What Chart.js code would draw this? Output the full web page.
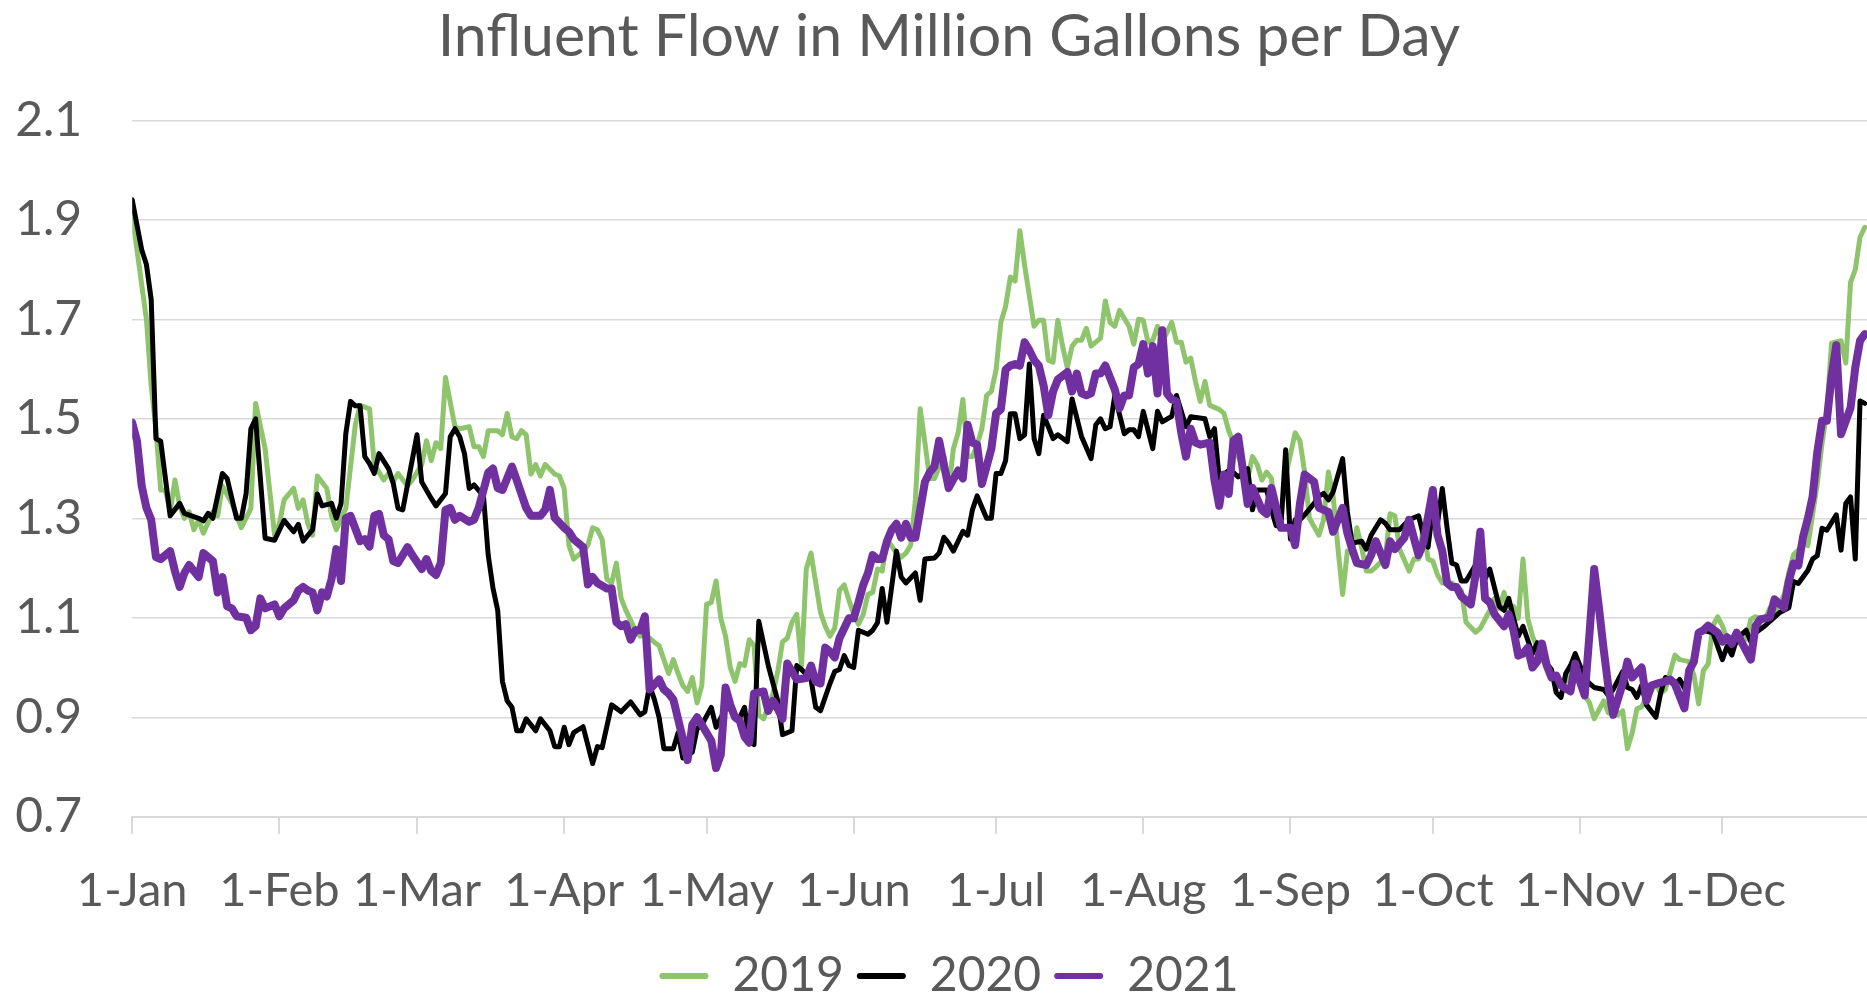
<!DOCTYPE html>
<html><head><meta charset="utf-8">
<script src="https://cdn.jsdelivr.net/npm/chart.js@4.4.1/dist/chart.umd.min.js"></script>
<style>html,body{margin:0;padding:0;background:#fff;overflow:hidden}#wrap{position:relative;width:1898px;height:994px}</style>
</head><body><div id="wrap"><canvas id="c"></canvas></div>
<script>
const titleText = 'Influent Flow in Million Gallons per Day';
const seriesNames = ['2019', '2020', '2021'];
const seriesColors = ['#8DC46C', '#000000', '#7030A0'];
const monthStarts = [0, 31, 60, 91, 121, 152, 182, 213, 244, 274, 305, 335];
const monthLabels = ['1-Jan','1-Feb','1-Mar','1-Apr','1-May','1-Jun','1-Jul','1-Aug','1-Sep','1-Oct','1-Nov','1-Dec'];
const yTicks = [0.7, 0.9, 1.1, 1.3, 1.5, 1.7, 1.9, 2.1];

// 2019 (day of year, MGD)
const days2019 = [
0,3,4,5,6,7,8,9,10,11,
12,13,14,15,17,18,19,21,23,25,
26,28,30,31,32,34,35,36,37,38,
39,41,42,43,45,47,48,50,51,53,
54,55,56,58,59,61,62,63,64,65,
66,68,69,71,72,73,74,75,77,78,
79,80,81,82,83,84,85,86,87,89,
90,91,92,93,95,96,97,98,99,100,
101,102,103,104,106,107,108,110,111,113,
114,115,116,117,118,119,120,121,122,123,
124,125,126,127,128,129,130,131,132,133,
135,136,137,138,139,140,141,142,143,144,
145,146,147,148,149,150,151,152,153,154,
155,156,157,158,159,161,162,163,164,165,
166,167,168,169,171,172,173,174,175,176,
177,178,179,180,181,182,183,184,185,186,
187,188,190,191,192,193,194,195,196,197,
198,199,200,201,202,204,205,206,207,208,
210,211,212,213,214,215,216,217,219,220,
221,222,223,224,225,226,227,229,230,231,
232,233,235,236,237,238,239,240,241,242,
243,245,246,247,248,250,251,252,253,254,
255,256,257,258,259,260,261,262,264,265,
266,267,269,270,271,272,273,274,275,276,
278,280,281,283,284,286,287,288,289,290,
291,292,293,294,295,296,297,299,300,302,
303,304,305,306,307,308,310,311,312,313,
314,315,316,317,318,319,320,321,322,323,
325,326,328,329,330,331,332,333,334,335,
336,338,339,340,341,342,344,345,346,348,
349,350,351,352,353,354,355,356,357,358,
360,361,362,363,364,365];
const flow2019 = [
1.91,1.70,1.567,1.48,1.357,1.357,1.313,1.377,1.325,1.30,
1.313,1.277,1.297,1.27,1.313,1.305,1.365,1.33,1.281,1.32,
1.531,1.44,1.266,1.289,1.337,1.36,1.32,1.337,1.289,1.266,
1.385,1.36,1.305,1.277,1.32,1.488,1.527,1.52,1.408,1.377,
1.39,1.373,1.39,1.365,1.377,1.408,1.456,1.416,1.452,1.44,
1.583,1.484,1.48,1.484,1.444,1.444,1.424,1.476,1.476,1.468,
1.511,1.464,1.46,1.476,1.468,1.389,1.408,1.385,1.408,1.389,
1.385,1.36,1.246,1.218,1.234,1.246,1.281,1.277,1.257,1.178,
1.17,1.21,1.139,1.115,1.075,1.063,1.067,1.051,1.044,0.988,
1.016,0.988,0.964,0.952,0.98,0.929,0.964,1.127,1.131,1.174,
1.099,1.063,1.0,0.972,1.008,1.004,1.056,1.044,0.905,0.897,
0.948,0.992,1.052,1.059,1.091,1.107,1.004,1.198,1.23,1.17,
1.111,1.083,1.063,1.079,1.155,1.166,1.135,1.107,1.087,1.107,
1.147,1.151,1.198,1.194,1.258,1.23,1.222,1.23,1.246,1.337,
1.52,1.452,1.38,1.38,1.424,1.357,1.44,1.472,1.539,1.424,
1.424,1.448,1.48,1.547,1.555,1.599,1.694,1.726,1.785,1.777,
1.878,1.809,1.686,1.698,1.698,1.618,1.614,1.698,1.646,1.603,
1.646,1.658,1.658,1.682,1.646,1.662,1.737,1.694,1.686,1.718,
1.686,1.65,1.70,1.698,1.654,1.658,1.686,1.654,1.694,1.654,
1.654,1.614,1.622,1.575,1.535,1.575,1.527,1.519,1.511,1.476,
1.452,1.424,1.38,1.424,1.408,1.377,1.393,1.38,1.297,1.30,
1.385,1.472,1.456,1.393,1.30,1.266,1.297,1.393,1.345,1.242,
1.147,1.234,1.23,1.281,1.242,1.194,1.194,1.202,1.222,1.309,
1.305,1.238,1.194,1.218,1.218,1.281,1.218,1.214,1.186,1.17,
1.17,1.155,1.091,1.071,1.079,1.115,1.139,1.119,1.151,1.111,
1.123,1.099,1.218,1.099,1.063,1.04,1.016,0.988,0.964,0.972,
1.004,0.996,0.964,0.944,0.929,0.897,0.933,0.909,0.929,0.905,
0.913,0.837,0.869,0.917,0.921,0.94,0.952,0.968,0.948,0.956,
1.025,1.016,1.012,0.985,0.927,0.994,1.007,1.084,1.102,1.084,
1.057,1.048,1.066,1.057,1.097,1.102,1.097,1.12,1.11,1.146,
1.191,1.227,1.236,1.254,1.245,1.307,1.37,1.451,1.514,1.652,
1.657,1.612,1.774,1.80,1.865,1.885];

// 2020
const days2020 = [
0,2,3,4,5,6,8,10,11,14,
15,16,17,19,20,22,23,24,25,26,
28,30,32,34,35,36,38,39,40,42,
43,44,45,46,47,48,49,50,51,52,
54,55,56,57,60,61,63,64,66,67,
68,69,70,71,72,74,75,76,77,78,
79,80,81,82,83,85,86,88,89,90,
91,92,93,95,97,98,99,101,103,105,
107,108,109,110,111,112,114,115,116,118,
119,120,122,123,125,126,127,128,129,130,
131,132,134,135,136,137,139,140,141,143,
144,145,147,148,149,150,151,152,153,155,
156,157,158,159,161,162,163,165,166,167,
169,170,171,172,173,175,176,177,178,180,
181,182,183,184,185,186,187,188,189,190,
191,192,193,194,195,197,198,200,202,203,
204,205,206,207,209,210,211,212,213,215,
216,217,219,220,222,223,226,227,228,229,
231,232,233,235,236,237,239,240,241,242,
243,244,245,246,247,249,250,251,252,253,
255,256,257,259,260,261,263,264,265,267,
269,271,272,273,274,275,276,277,278,279,
280,281,283,284,285,286,288,289,290,291,
292,293,295,296,297,299,300,301,302,303,
304,306,307,308,310,311,312,314,315,316,
317,318,319,321,322,323,325,326,327,328,
329,330,331,333,335,336,337,338,340,341,
342,344,345,347,349,350,351,353,354,355,
356,357,359,360,361,362,363,364,365];
const flow2020 = [
1.94,1.84,1.81,1.74,1.46,1.455,1.305,1.33,1.31,1.30,
1.295,1.31,1.30,1.39,1.38,1.30,1.30,1.35,1.48,1.50,
1.26,1.256,1.296,1.273,1.288,1.254,1.277,1.349,1.325,1.33,
1.30,1.33,1.47,1.535,1.526,1.526,1.424,1.41,1.39,1.43,
1.40,1.37,1.32,1.317,1.468,1.373,1.34,1.325,1.35,1.464,
1.48,1.464,1.43,1.36,1.367,1.345,1.226,1.16,1.115,0.972,
0.933,0.92,0.873,0.873,0.897,0.873,0.897,0.873,0.841,0.841,
0.88,0.845,0.869,0.881,0.807,0.841,0.839,0.925,0.911,0.931,
0.905,0.911,0.964,0.936,0.90,0.837,0.837,0.869,0.818,0.83,
0.877,0.885,0.92,0.88,0.917,0.917,0.897,0.90,0.92,0.853,
0.845,1.093,1.004,0.968,0.933,0.865,0.873,1.004,0.996,0.976,
0.92,0.913,0.968,0.992,0.996,1.024,1.004,1.0,1.075,1.067,
1.075,1.09,1.159,1.091,1.234,1.182,1.17,1.19,1.135,1.218,
1.22,1.23,1.262,1.25,1.234,1.274,1.266,1.317,1.345,1.30,
1.30,1.39,1.39,1.416,1.51,1.51,1.46,1.468,1.61,1.46,
1.43,1.507,1.484,1.46,1.468,1.454,1.54,1.464,1.42,1.488,
1.50,1.48,1.484,1.547,1.47,1.478,1.478,1.464,1.515,1.44,
1.515,1.494,1.505,1.547,1.484,1.504,1.50,1.464,1.48,1.38,
1.396,1.392,1.383,1.40,1.317,1.357,1.357,1.317,1.285,1.285,
1.438,1.258,1.297,1.297,1.307,1.33,1.345,1.35,1.337,1.353,
1.42,1.313,1.25,1.254,1.238,1.266,1.297,1.29,1.277,1.277,
1.297,1.305,1.266,1.242,1.32,1.29,1.36,1.281,1.21,1.206,
1.174,1.174,1.206,1.194,1.178,1.198,1.123,1.115,1.139,1.10,
1.063,1.083,1.028,1.05,1.02,0.996,0.95,0.94,0.988,1.004,
1.028,0.98,0.968,0.96,0.956,0.944,0.956,0.992,0.96,0.956,
0.94,0.964,0.925,0.90,0.949,0.98,0.967,0.976,0.958,0.994,
1.012,1.07,1.075,1.07,1.016,1.043,1.025,1.057,1.075,1.052,
1.07,1.084,1.093,1.11,1.12,1.173,1.169,1.195,1.218,1.225,
1.28,1.276,1.307,1.236,1.33,1.343,1.218,1.536,1.531];

// 2021
const days2021 = [
0,1,2,3,4,5,6,8,9,10,
11,12,14,15,17,18,19,20,21,22,
24,25,26,27,28,30,31,32,34,35,
36,37,38,39,40,41,42,43,44,45,
46,48,49,50,51,52,53,54,55,56,
58,59,61,62,63,64,65,66,67,68,
69,71,72,73,75,76,77,78,80,81,
83,84,86,87,88,89,91,92,93,95,
96,97,98,100,101,102,103,104,105,106,
107,108,109,111,112,113,114,116,117,118,
119,120,122,123,124,125,126,127,128,129,
130,131,133,134,135,136,137,138,140,142,
143,144,145,146,147,148,149,150,151,152,
153,154,155,156,157,158,159,160,161,162,
163,164,165,167,168,169,170,171,172,174,
175,176,177,178,179,181,182,183,184,185,
186,187,188,189,190,191,192,193,194,195,
197,198,199,200,201,202,203,204,205,207,
208,209,210,211,212,213,214,215,216,217,
218,219,220,221,222,223,224,225,227,228,
229,230,231,232,233,235,236,238,239,240,
242,244,245,246,247,249,250,252,253,255,
256,257,258,260,261,262,263,264,265,266,
268,269,270,271,272,274,275,276,277,278,
279,280,282,283,284,285,286,287,289,290,
291,292,293,294,295,296,297,298,299,300,
301,303,304,305,306,307,308,309,310,311,
312,314,315,316,318,319,320,321,323,324,
325,327,328,329,330,331,332,334,335,336,
337,338,339,341,342,343,345,346,348,349,
350,351,352,353,354,355,356,357,358,359,
360,362,363,364,365];
const flow2021 = [
1.492,1.456,1.365,1.321,1.297,1.222,1.218,1.234,1.194,1.162,
1.19,1.206,1.182,1.23,1.214,1.151,1.182,1.123,1.119,1.103,
1.10,1.075,1.083,1.139,1.119,1.127,1.103,1.119,1.135,1.155,
1.162,1.155,1.151,1.115,1.151,1.143,1.178,1.238,1.174,1.30,
1.305,1.254,1.258,1.243,1.305,1.309,1.266,1.258,1.214,1.21,
1.242,1.226,1.198,1.218,1.194,1.186,1.21,1.317,1.321,1.297,
1.305,1.293,1.297,1.321,1.392,1.40,1.361,1.357,1.404,1.377,
1.321,1.305,1.305,1.317,1.357,1.301,1.281,1.273,1.258,1.242,
1.167,1.182,1.17,1.159,1.159,1.091,1.083,1.087,1.056,1.075,
1.075,1.103,0.956,0.976,0.956,0.948,0.936,0.857,0.814,0.885,
0.90,0.885,0.853,0.798,0.825,0.96,0.925,0.90,0.893,0.861,
0.849,0.948,0.952,0.913,0.933,0.917,0.897,1.008,0.976,0.979,
1.004,0.972,0.968,1.04,1.032,1.02,1.059,1.079,1.099,1.099,
1.131,1.166,1.19,1.226,1.218,1.218,1.254,1.277,1.289,1.261,
1.289,1.261,1.261,1.373,1.392,1.404,1.456,1.408,1.361,1.396,
1.38,1.488,1.452,1.448,1.369,1.44,1.511,1.519,1.599,1.607,
1.61,1.607,1.654,1.638,1.618,1.607,1.567,1.507,1.555,1.579,
1.594,1.555,1.591,1.551,1.547,1.551,1.591,1.591,1.607,1.559,
1.521,1.547,1.547,1.603,1.61,1.65,1.591,1.646,1.551,1.678,
1.551,1.539,1.535,1.472,1.424,1.48,1.452,1.448,1.452,1.377,
1.325,1.388,1.349,1.456,1.464,1.329,1.361,1.317,1.309,1.361,
1.281,1.281,1.246,1.329,1.388,1.373,1.321,1.313,1.273,1.321,
1.27,1.238,1.21,1.206,1.226,1.254,1.23,1.206,1.254,1.238,
1.261,1.297,1.261,1.226,1.25,1.357,1.266,1.234,1.17,1.162,
1.162,1.143,1.127,1.186,1.273,1.139,1.131,1.107,1.083,1.107,
1.075,1.024,1.028,1.04,1.0,1.012,1.048,1.004,0.98,0.984,
0.964,0.952,1.008,0.972,0.944,1.067,1.198,1.12,1.036,0.96,
0.905,0.968,1.012,0.98,1.0,0.933,0.964,0.967,0.972,0.976,
0.967,0.918,0.994,1.012,1.07,1.075,1.084,1.07,1.052,1.061,
1.048,1.07,1.052,1.016,1.084,1.097,1.101,1.137,1.12,1.173,
1.209,1.205,1.263,1.299,1.343,1.433,1.496,1.496,1.585,1.648,
1.469,1.522,1.603,1.657,1.67];

function toPoints(days, vals, name) {
  if (days.length !== vals.length) throw new Error('length mismatch ' + name + ': ' + days.length + ' vs ' + vals.length);
  return days.map((d, i) => ({ x: d, y: vals[i] }));
}

const textColor = '#595959';
const gridColor = '#D9D9D9';
const fontFamily = 'Lato';

new Chart(document.getElementById('c'), {
  type: 'line',
  data: {
    datasets: [
      { label: seriesNames[0], data: toPoints(days2019, flow2019, '2019'), borderColor: seriesColors[0], borderWidth: 5, order: 3 },
      { label: seriesNames[1], data: toPoints(days2020, flow2020, '2020'), borderColor: seriesColors[1], borderWidth: 5, order: 2 },
      { label: seriesNames[2], data: toPoints(days2021, flow2021, '2021'), borderColor: seriesColors[2], borderWidth: 8, order: 1 }
    ].map(ds => Object.assign(ds, { pointRadius: 0, fill: false, tension: 0, borderJoinStyle: 'round', borderCapStyle: 'round' }))
  },
  options: {
    responsive: true,
    maintainAspectRatio: false,
    animation: false,
    devicePixelRatio: 1,
    layout: { padding: { left: 0, right: 0, top: 0, bottom: -16 } },
    plugins: {
      tooltip: { enabled: false },
      title: {
        display: true, text: titleText, color: textColor,
        font: { family: fontFamily, size: 59, weight: 'normal' },
        padding: { top: 2, bottom: 47.5 }
      },
      legend: {
        display: true, position: 'bottom',
        labels: {
          color: textColor, font: { family: fontFamily, size: 48 },
          boxWidth: 49, boxHeight: 6, padding: 13,
          generateLabels: () => seriesNames.map((n, i) => ({
            text: n, fillStyle: seriesColors[i], strokeStyle: seriesColors[i],
            lineWidth: 0, hidden: false, datasetIndex: i, borderRadius: 3, fontColor: textColor
          }))
        }
      }
    },
    scales: {
      x: {
        type: 'linear', min: 0, max: 372,
        afterBuildTicks: s => { s.ticks = monthStarts.map(v => ({ value: v })); },
        afterFit: s => { s.height = 122.2; },
        ticks: {
          autoSkip: false, maxRotation: 0, minRotation: 0, padding: 28.6,
          color: textColor, font: { family: fontFamily, size: 47 },
          callback: v => { const i = monthStarts.indexOf(v); return i >= 0 ? monthLabels[i] : ''; }
        },
        grid: { drawOnChartArea: false, drawTicks: true, tickLength: 17, color: gridColor, lineWidth: 2 },
        border: { display: true, color: gridColor, width: 2 }
      },
      y: {
        min: 0.7, max: 2.1,
        afterBuildTicks: s => { s.ticks = yTicks.map(v => ({ value: v })); },
        afterFit: s => { s.width = 132.2; },
        ticks: { padding: 50, color: textColor, font: { family: fontFamily, size: 48 }, callback: v => Number(v).toFixed(1) },
        grid: { color: gridColor, lineWidth: 1.5, drawTicks: false },
        border: { display: false }
      }
    }
  }
});
</script>
</body></html>
